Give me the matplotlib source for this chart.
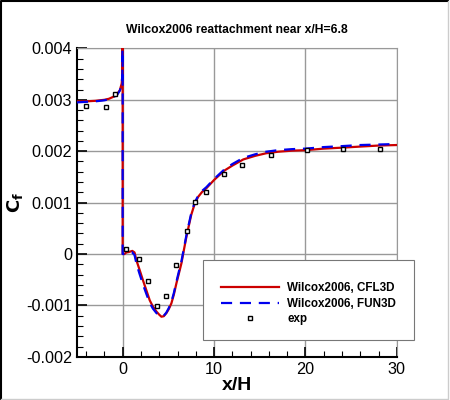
import numpy as np
import matplotlib.pyplot as plt
from matplotlib.patches import Rectangle
from matplotlib.ticker import MultipleLocator

plt.rcParams['font.family'] = ['Liberation Sans', 'DejaVu Sans']

# CFL3D curve (red)
x_cfl = [-5.0, -4.0, -3.0, -2.0, -1.5, -1.0, -0.6, -0.3, -0.1, -0.03, 0.0, 0.0,
         0.2, 0.4, 0.7, 1.06, 1.3, 1.5, 1.8, 2.2, 2.6, 2.96, 3.3, 3.7, 4.0, 4.24,
         4.5, 4.78, 5.05, 5.33, 5.6, 5.88, 6.15, 6.43, 6.7, 6.98, 7.25, 7.5,
         7.85, 8.25, 8.7, 9.16, 10.0, 11.1, 12.0, 13.2, 14.5, 15.7, 17.0, 18.5,
         20.0, 22.0, 24.1, 26.0, 28.0, 30.0]
cf_cfl = [0.00297, 0.00297, 0.00298, 0.00300, 0.00302, 0.00306, 0.00311, 0.00319,
          0.00332, 0.00350, 0.00700, 0.00000, 0.00000, 0.00003, 0.00004, 0.00006,
          0.00003, -0.00012, -0.00028, -0.00050, -0.00071, -0.00090, -0.00102,
          -0.00112, -0.00118, -0.00122, -0.00121, -0.00115, -0.00107, -0.00096,
          -0.00079, -0.00057, -0.00038, -0.00018, 0.00008, 0.00034, 0.00056,
          0.00076, 0.00096, 0.00111, 0.00121, 0.00128, 0.00144, 0.00162, 0.00172,
          0.00184, 0.00191, 0.00196, 0.00199, 0.00201, 0.00202, 0.00205, 0.00207,
          0.00209, 0.00211, 0.00212]

# FUN3D curve (blue dashed)
x_fun = [-5.0, -4.0, -3.0, -2.0, -1.5, -1.0, -0.6, -0.3, -0.1, -0.03, 0.0, 0.0,
         0.2, 0.4, 0.7, 1.0, 1.3, 1.5, 1.8, 2.2, 2.6, 2.96, 3.3, 3.7, 4.0, 4.24,
         4.5, 4.78, 5.05, 5.33, 5.6, 5.88, 6.15, 6.43, 6.7, 6.98, 7.25, 7.5,
         7.85, 8.25, 8.7, 9.16, 10.0, 11.1, 12.0, 13.2, 14.5, 15.7, 17.0, 18.5,
         20.0, 22.0, 24.1, 26.0, 28.0, 30.0]
cf_fun = [0.00295, 0.00296, 0.00297, 0.00299, 0.00301, 0.00305, 0.00310, 0.00318,
          0.00331, 0.00349, 0.00700, 0.00000, 0.00000, 0.00002, 0.00003, 0.00004,
          -0.00002, -0.00018, -0.00036, -0.00058, -0.00078, -0.00095, -0.00106,
          -0.00115, -0.00120, -0.00122, -0.00120, -0.00114, -0.00105, -0.00093,
          -0.00076, -0.00054, -0.00034, -0.00014, 0.00011, 0.00037, 0.00059,
          0.00079, 0.00099, 0.00113, 0.00123, 0.00130, 0.00146, 0.00164, 0.00175,
          0.00187, 0.00194, 0.00199, 0.00202, 0.00204, 0.00205, 0.00208, 0.00210,
          0.00212, 0.00213, 0.00214]

# experiment
x_exp = [-4.05, -1.86, -0.88, 0.4, 1.79, 2.77, 3.76, 4.78, 5.84, 7.0, 7.92, 9.09,
         11.1, 13.1, 16.2, 20.2, 24.1, 28.1]
cf_exp = [0.00287, 0.00286, 0.00312, 0.00009, -0.00010, -0.00052, -0.00101,
          -0.00081, -0.00022, 0.00045, 0.00102, 0.00120, 0.00155, 0.00174,
          0.00192, 0.00203, 0.00204, 0.00205]

fig = plt.figure(figsize=(4.5, 4.0), dpi=100)
ax = fig.add_axes([0.171, 0.108, 0.711, 0.771])

ax.plot(x_cfl, cf_cfl, color='#cc0000', lw=1.6, label='Wilcox2006, CFL3D', zorder=3)
ax.plot(x_fun, cf_fun, color='#0000ee', lw=1.6, dashes=(5, 3.5), label='Wilcox2006, FUN3D', zorder=4)
ax.plot(x_exp, cf_exp, ls='none', marker='s', ms=3.5, mfc='white', mec='black', mew=1.0,
        label='exp', zorder=5)

ax.set_xlim(-5, 30)
ax.set_ylim(-0.002, 0.004)
ax.xaxis.set_major_locator(MultipleLocator(10))
ax.xaxis.set_minor_locator(MultipleLocator(2))
ax.yaxis.set_major_locator(MultipleLocator(0.001))
ax.yaxis.set_minor_locator(MultipleLocator(0.0002))
ax.yaxis.set_major_formatter(plt.FuncFormatter(lambda v, p: '0' if abs(v) < 1e-9 else '%.3f' % v))
ax.grid(True, which='major', color='#999999', lw=1.0)
ax.tick_params(which='major', direction='in', length=7, width=1.2, labelsize=11.7, top=False, right=False)
ax.tick_params(which='minor', direction='in', length=4, width=0.8, top=False, right=False)
ax.spines['left'].set_linewidth(1.5)
ax.spines['bottom'].set_linewidth(1.5)
ax.spines['top'].set_color('#999999')
ax.spines['right'].set_color('#999999')

ax.set_title('Wilcox2006 reattachment near x/H=6.8', fontsize=8.7, fontweight='bold', pad=11)
ax.set_xlabel('x/H', fontsize=14, fontweight='bold', labelpad=0)
fig.text(0.033, 0.495, r'$\mathbf{C_f}$', rotation=90, fontsize=13, ha='center', va='center')

# legend box sticking out to the right
ax.add_patch(Rectangle((0.394, 0.054), 0.659, 0.259, transform=ax.transAxes, clip_on=False,
                       facecolor='white', edgecolor='#777777', lw=0.8, zorder=10))
leg = ax.legend(loc='upper left', bbox_to_anchor=(0.45, 0.242), frameon=False, borderpad=0,
                borderaxespad=0, handlelength=5, handletextpad=0.7, labelspacing=0.3,
                prop={'weight': 'bold', 'size': 8.4})
leg.set_zorder(11)

fig.add_artist(plt.Line2D([0.002, 0.002, 0.995], [0.0, 0.997, 0.997], color='black', lw=1.5))
fig.add_artist(plt.Line2D([0.995, 0.995, 0.002], [0.997, 0.003, 0.003], color='#cccccc', lw=1.0))

fig.savefig('out.png', dpi=100)
